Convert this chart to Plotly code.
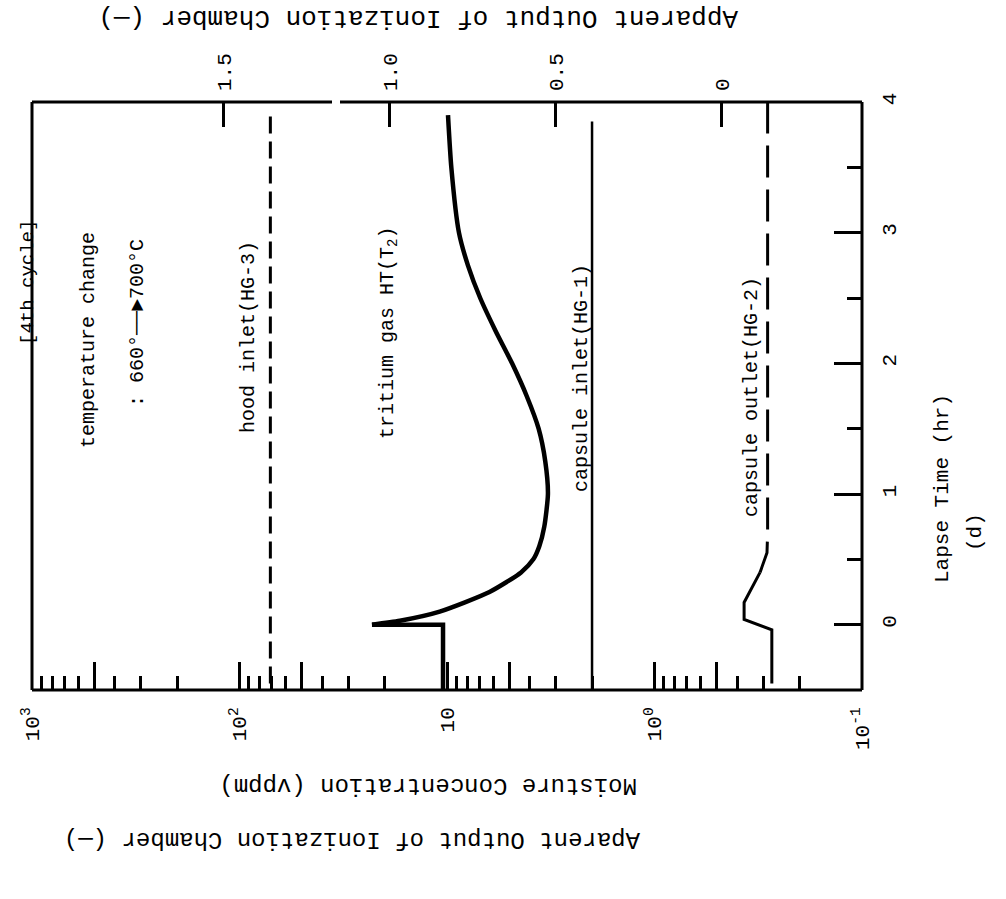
import plotly.graph_objects as go

# ---- data (moisture in vppm, ionization output in arbitrary units, time in hr) ----
hood_inlet_time = [-0.45, 3.95]
hood_inlet_vppm = [71, 71]

capsule_inlet_time = [-0.5, 3.85]
capsule_inlet_vppm = [2.0, 2.0]

capsule_outlet_time = [-0.45, -0.04, 0.04, 0.17, 0.40, 0.55, 0.70, 4.0]
capsule_outlet_vppm = [0.272, 0.272, 0.37, 0.37, 0.31, 0.287, 0.285, 0.285]

tritium_time = [-0.5, 0.0, 0.0, 0.03, 0.10, 0.25, 0.40, 0.50, 0.60, 0.75, 1.00,
                1.25, 1.50, 1.75, 2.00, 2.25, 2.50, 2.75, 3.00, 3.50, 3.90]
tritium_output = [0.84, 0.84, 1.054, 0.97, 0.85, 0.70, 0.605, 0.568, 0.550, 0.535, 0.524,
                  0.532, 0.552, 0.588, 0.632, 0.682, 0.728, 0.765, 0.792, 0.815, 0.825]

moisture_major_ticks = [1000, 500, 100, 50, 10, 5, 1, 0.5, 0.1]
moisture_major_labels = ["10<sup>3</sup>", "", "10<sup>2</sup>", "", "10", "",
                         "10<sup>0</sup>", "", "10<sup>-1</sup>"]
moisture_minor_ticks = [900, 800, 700, 600, 400, 300, 200,
                        90, 80, 70, 60, 40, 30, 20,
                        9, 8, 7, 6, 4, 3, 2,
                        0.9, 0.8, 0.7, 0.6, 0.4, 0.3, 0.2]
output_ticks = [0, 0.5, 1.0, 1.5]
output_labels = ["0", "0.5", "1.0", "1.5"]
time_ticks = [0, 1, 2, 3, 4]
time_minor_ticks = [0.5, 1.5, 2.5, 3.5]

FONT = "Liberation Mono"
INK = "black"

# plot box in pixels
L, R, T, B = 32, 862, 102, 690
W, H = 1006, 899


def paper(px, py):
    return (px - L) / (R - L), (B - py) / (B - T)


fig = go.Figure()

fig.add_trace(go.Scatter(
    x=hood_inlet_vppm, y=hood_inlet_time, mode="lines",
    line=dict(color=INK, width=3, dash="17px,8px"), hoverinfo="skip"))

fig.add_trace(go.Scatter(
    x=capsule_inlet_vppm, y=capsule_inlet_time, mode="lines",
    line=dict(color=INK, width=2.5), hoverinfo="skip"))

# capsule outlet: solid around the start-up bump, dashed afterwards
split = 5
fig.add_trace(go.Scatter(
    x=capsule_outlet_vppm[:split], y=capsule_outlet_time[:split], mode="lines",
    line=dict(color=INK, width=3), hoverinfo="skip"))
fig.add_trace(go.Scatter(
    x=capsule_outlet_vppm[split - 1:], y=capsule_outlet_time[split - 1:], mode="lines",
    line=dict(color=INK, width=3, dash="32px,12px"), hoverinfo="skip"))

# tritium gas on the ionization-chamber axis: step before t=0, smooth after
fig.add_trace(go.Scatter(
    x=tritium_output[:3], y=tritium_time[:3], mode="lines", xaxis="x2",
    line=dict(color=INK, width=4.5), hoverinfo="skip"))
fig.add_trace(go.Scatter(
    x=tritium_output[2:], y=tritium_time[2:], mode="lines", xaxis="x2",
    line=dict(color=INK, width=4.5, shape="spline", smoothing=0.6), hoverinfo="skip"))

tick_font = dict(family=FONT, size=21, color=INK)

fig.update_layout(
    width=W, height=H,
    margin=dict(l=L, r=W - R, t=T, b=H - B, pad=0),
    paper_bgcolor="white", plot_bgcolor="white",
    showlegend=False,
    xaxis=dict(
        type="log", range=[3, -1], domain=[0, 1],
        showgrid=False, zeroline=False, showline=False,
        ticks="inside", ticklen=28, tickwidth=3, tickcolor=INK,
        tickmode="array", tickvals=moisture_major_ticks, ticktext=moisture_major_labels,
        tickangle=-90, tickfont=tick_font, ticklabelstandoff=12,
        minor=dict(tickmode="array", tickvals=moisture_minor_ticks, ticks="inside",
                   ticklen=14, tickwidth=3, tickcolor=INK, showgrid=False),
    ),
    xaxis2=dict(
        overlaying="x", side="top", range=[2.078, -0.422],
        showgrid=False, zeroline=False, showline=False,
        ticks="inside", ticklen=25, tickwidth=3, tickcolor=INK,
        tickmode="array", tickvals=output_ticks, ticktext=output_labels,
        tickangle=-90, tickfont=tick_font, ticklabelstandoff=10,
    ),
    yaxis=dict(
        side="right", range=[-0.5, 4],
        showgrid=False, zeroline=False, showline=False,
        ticks="inside", ticklen=28, tickwidth=3, tickcolor=INK,
        tickmode="array", tickvals=time_ticks,
        tickangle=-90, tickfont=tick_font, ticklabelstandoff=12,
        minor=dict(tickmode="array", tickvals=time_minor_ticks, ticks="inside",
                   ticklen=15, tickwidth=3, tickcolor=INK, showgrid=False),
    ),
)

# frame (the top rule has a small break)
frame = dict(type="line", xref="paper", yref="paper", line=dict(color=INK, width=3))
gap_a, _ = paper(332, 0)
gap_b, _ = paper(340, 0)
for x0, y0, x1, y1 in [(0, 0, 0, 1), (1, 0, 1, 1), (0, 0, 1, 0),
                       (0, 1, gap_a, 1), (gap_b, 1, 1, 1)]:
    fig.add_shape(frame, x0=x0, y0=y0, x1=x1, y1=y1)


def label(text, px, py, size=20, angle=-90):
    x, y = paper(px, py)
    fig.add_annotation(text=text, x=x, y=y, xref="paper", yref="paper",
                       showarrow=False, textangle=angle,
                       xanchor="center", yanchor="middle",
                       font=dict(family=FONT, size=size, color=INK))


# text inside the plot
label("[4th cycle]", 28, 283, size=19)
label("temperature change", 88, 340)
label(": 660°──►700°C", 137, 323)
label("hood inlet(HG-3)", 248, 337)
label("tritium gas HT(T<sub>2</sub>)", 388, 333)
label("capsule inlet(HG-1)", 581, 378)
label("capsule outlet(HG-2)", 751, 397)

# axis titles
label("Lapse Time (hr)", 942, 489, size=21)
label("(d)", 975, 532, size=21)
label("Apparent Output of Ionization Chamber (—)", 418, 18, size=26, angle=180)
label("Moisture Concentration (vppm)", 428, 786, size=24, angle=180)
label("Aparent Output of Ionization Chamber (—)", 352, 840, size=24, angle=180)

fig.write_html("out.html")
